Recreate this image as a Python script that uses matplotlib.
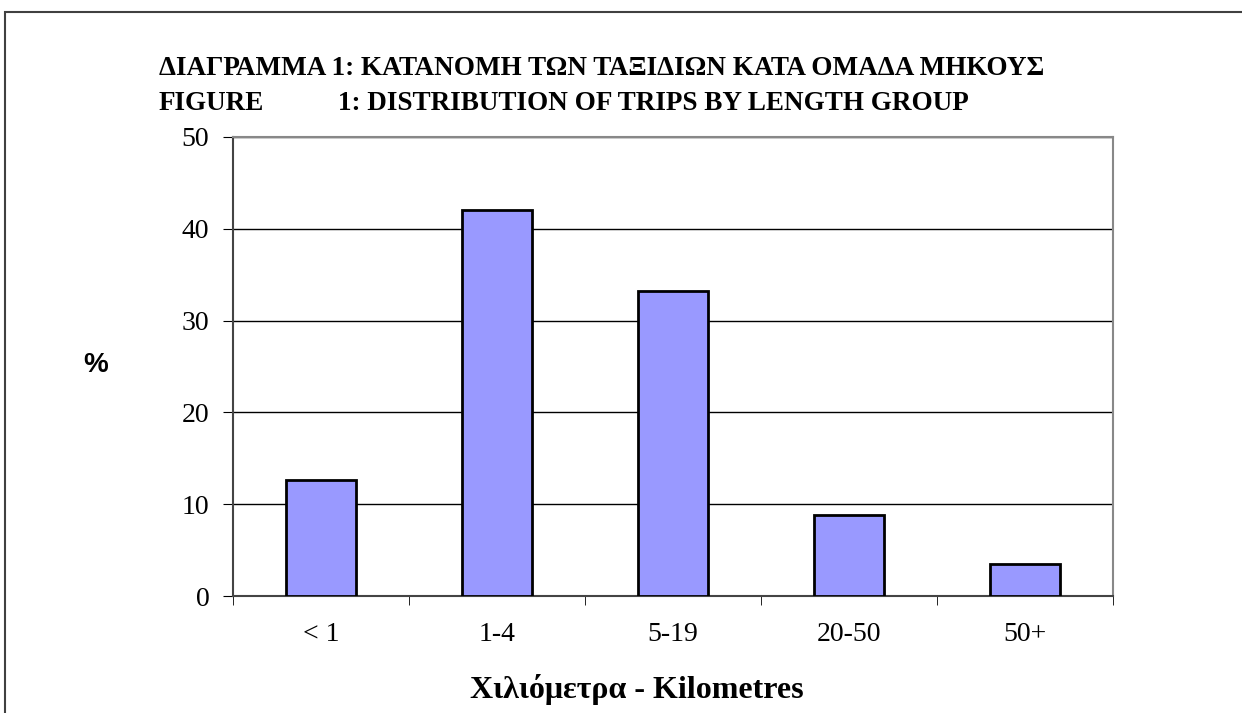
import matplotlib.pyplot as plt
import matplotlib.patches as mpatches
import numpy as np

categories = ['< 1', '1-4', '5-19', '20-50', '50+']
values = [12.6, 42.0, 33.2, 8.8, 3.5]
yticks = [0, 10, 20, 30, 40, 50]

W, H = 1242, 713
fig = plt.figure(figsize=(W / 100, H / 100), dpi=100)
serif = ['Liberation Serif', 'DejaVu Serif']

# outer frame (runs off the right and bottom edges)
fig.patches.append(mpatches.Rectangle((5 / W, -0.1), 2.0, 1 - 12 / H + 0.1,
                                      transform=fig.transFigure, fill=False,
                                      edgecolor='#404040', linewidth=1.5))

ax = fig.add_axes([233 / W, 1 - 596 / H, 880 / W, 459 / H])
x = np.arange(len(categories))
ax.bar(x, values, width=0.4, color='#9999ff', edgecolor='black',
       linewidth=2, zorder=3)

ax.set_xlim(-0.5, len(categories) - 0.5)
ax.set_ylim(0, 50)
ax.set_yticks(yticks)
ax.set_yticklabels([str(t) for t in yticks], family=serif, fontsize=20)
ax.set_xticks(x)
ax.set_xticklabels(categories, family=serif, fontsize=20)
ax.tick_params(axis='x', length=0, pad=19)
ax.set_xticks(np.arange(len(categories) + 1) - 0.5, minor=True)
ax.tick_params(axis='x', which='minor', length=6.5, direction='out', color='black')
ax.tick_params(axis='y', length=7, direction='out', pad=10, color='black')

ax.yaxis.grid(True, color='black', linewidth=1)
ax.set_axisbelow(True)
for side in ['top', 'right']:
    ax.spines[side].set_color('#888888')
    ax.spines[side].set_linewidth(1.5)
for side in ['left', 'bottom']:
    ax.spines[side].set_color('#444444')
    ax.spines[side].set_linewidth(1.5)

title_kw = dict(family=serif, fontsize=19.5, fontweight='bold',
                va='baseline', ha='left')
fig.text(159 / W, 1 - 75 / H,
         'ΔΙΑΓΡΑΜΜΑ 1: ΚΑΤΑΝΟΜΗ ΤΩΝ ΤΑΞΙΔΙΩΝ ΚΑΤΑ ΟΜΑΔΑ ΜΗΚΟΥΣ', **title_kw)
fig.text(159 / W, 1 - 110 / H, 'FIGURE', **title_kw)
fig.text(338 / W, 1 - 110 / H, '1: DISTRIBUTION OF TRIPS BY LENGTH GROUP', **title_kw)

fig.text(96 / W, 1 - 365 / H, '%', family=['Liberation Sans', 'DejaVu Sans'],
         fontsize=20, fontweight='bold', va='center', ha='center')
fig.text(637 / W, 1 - 698 / H, 'Χιλιόμετρα - Kilometres', family=serif,
         fontsize=23, fontweight='bold', va='baseline', ha='center')

fig.savefig('out.png', dpi=100)
